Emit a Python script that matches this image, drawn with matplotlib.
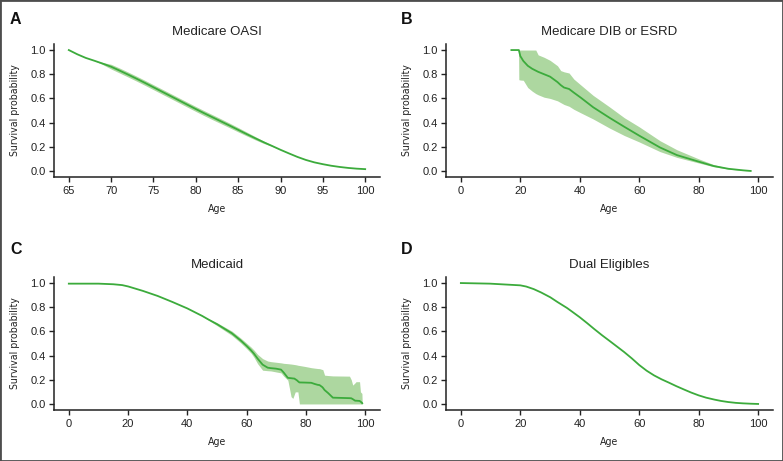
import os
import matplotlib
matplotlib.use("Agg")
import matplotlib.pyplot as plt
from matplotlib.patches import Rectangle
from matplotlib import font_manager

# ---------------- data ----------------
# A: Medicare OASI
a_age = [65, 66, 67, 68, 69, 70, 71, 72, 73, 74, 75, 76, 77, 78, 79, 80, 81, 82, 83,
         84, 85, 86, 87, 88, 89, 90, 91, 92, 93, 94, 95, 96, 97, 98, 99, 100]
a_surv = [1.0, 0.965, 0.935, 0.912, 0.888, 0.862, 0.83, 0.797, 0.763, 0.728, 0.692,
          0.656, 0.62, 0.584, 0.548, 0.512, 0.477, 0.443, 0.409, 0.375, 0.34, 0.305,
          0.271, 0.238, 0.207, 0.175, 0.145, 0.116, 0.091, 0.071, 0.056, 0.043,
          0.033, 0.025, 0.019, 0.015]
a_lower = [1.0, 0.965, 0.935, 0.912, 0.880, 0.843, 0.810, 0.777, 0.743, 0.708, 0.672,
           0.636, 0.600, 0.564, 0.528, 0.492, 0.457, 0.423, 0.390, 0.357, 0.323, 0.290,
           0.258, 0.228, 0.203, 0.175, 0.145, 0.116, 0.091, 0.071, 0.056, 0.043,
           0.033, 0.025, 0.019, 0.015]
a_upper = [1.0, 0.965, 0.935, 0.912, 0.897, 0.882, 0.851, 0.818, 0.784, 0.749, 0.713,
           0.677, 0.641, 0.605, 0.569, 0.533, 0.498, 0.464, 0.430, 0.395, 0.359, 0.322,
           0.285, 0.248, 0.212, 0.175, 0.145, 0.116, 0.091, 0.071, 0.056, 0.043,
           0.033, 0.025, 0.019, 0.015]

# B: Medicare DIB or ESRD
b_age = [17, 19.4, 19.5, 20, 21, 22.5, 24, 25.2, 26, 28, 30, 32.5, 33.6, 34.7, 36.4,
         38, 40.4, 44.5, 50, 55, 60, 67, 72.7, 80, 85, 90, 95, 97.5]
b_surv = [1.0, 1.0, 1.0, 0.95, 0.91, 0.87, 0.845, 0.83, 0.82, 0.80, 0.78, 0.735,
          0.71, 0.69, 0.678, 0.648, 0.605, 0.527, 0.44, 0.365, 0.292, 0.194, 0.131,
          0.077, 0.041, 0.018, 0.005, 0.0]
b_lower = [1.0, 1.0, 0.755, 0.752, 0.75, 0.69, 0.66, 0.64, 0.63, 0.61, 0.60, 0.58,
           0.565, 0.55, 0.535, 0.51, 0.48, 0.43, 0.355, 0.293, 0.24, 0.16, 0.112,
           0.066, 0.035, 0.015, 0.004, 0.0]
b_upper = [1.0, 1.0, 1.0, 1.0, 1.0, 1.0, 1.0, 1.0, 0.96, 0.94, 0.915, 0.87, 0.83,
           0.82, 0.81, 0.76, 0.71, 0.625, 0.53, 0.44, 0.365, 0.25, 0.175, 0.1,
           0.053, 0.022, 0.006, 0.0]

# C: Medicaid
c_age = [0, 5, 10, 15, 18, 20, 25, 30, 35, 40, 45, 47, 50, 55, 58, 60, 61.5, 62.5,
         63.7, 65.4, 67.1, 68.2, 69.9, 71.6, 72.5, 73.9, 75, 75.6, 76.1, 76.4, 77,
         77.3, 77.8, 79.5, 81.8, 83, 84, 84.6, 85.5, 85.7, 86.3, 87.5, 89.1, 94.7,
         95.3, 95.8, 96.6, 96.9, 98.1, 98.4, 98.9, 99]
c_surv = [0.995, 0.995, 0.995, 0.99, 0.983, 0.972, 0.935, 0.893, 0.843, 0.79, 0.728,
          0.70, 0.66, 0.585, 0.525, 0.48, 0.443, 0.415, 0.375, 0.325, 0.30, 0.296,
          0.292, 0.284, 0.26, 0.216, 0.213, 0.211, 0.21, 0.205, 0.195, 0.188, 0.178,
          0.177, 0.175, 0.165, 0.158, 0.156, 0.14, 0.135, 0.115, 0.09, 0.052, 0.048,
          0.047, 0.04, 0.027, 0.027, 0.025, 0.02, 0.01, 0.006]
c_lower = [0.995, 0.995, 0.995, 0.99, 0.983, 0.972, 0.935, 0.893, 0.843, 0.79, 0.726,
           0.695, 0.648, 0.567, 0.505, 0.458, 0.42, 0.385, 0.333, 0.279, 0.275, 0.273,
           0.265, 0.257, 0.23, 0.197, 0.06, 0.046, 0.08, 0.10, 0.10, 0.10, 0.0, 0.0,
           0.0, 0.0, 0.0, 0.0, 0.0, 0.0, 0.0, 0.0, 0.0, 0.0, 0.0, 0.0, 0.0, 0.0,
           0.0, 0.0, 0.0, 0.0]
c_upper = [0.995, 0.995, 0.995, 0.99, 0.983, 0.972, 0.935, 0.893, 0.843, 0.79, 0.73,
           0.705, 0.672, 0.603, 0.545, 0.502, 0.47, 0.445, 0.41, 0.375, 0.355, 0.35,
           0.345, 0.34, 0.336, 0.333, 0.33, 0.328, 0.326, 0.325, 0.322, 0.32, 0.318,
           0.311, 0.30, 0.296, 0.293, 0.292, 0.285, 0.284, 0.238, 0.235, 0.232, 0.23,
           0.20, 0.156, 0.175, 0.184, 0.184, 0.10, 0.087, 0.006]

# D: Dual Eligibles
d_age = [0, 9.8, 20, 22, 24.5, 27, 30.1, 32.5, 35.7, 37.5, 40, 42.5, 44.8, 47.5, 50.1,
         52.5, 54.9, 57.5, 60, 62.5, 65, 67.5, 70, 72.5, 75.2, 77.5, 80, 82.5, 85.3,
         87.5, 89.9, 92.5, 94.9, 97.5, 100]
d_surv = [1.0, 0.995, 0.981, 0.971, 0.95, 0.922, 0.882, 0.843, 0.794, 0.762, 0.717,
          0.668, 0.621, 0.568, 0.52, 0.475, 0.43, 0.377, 0.322, 0.275, 0.236, 0.204,
          0.176, 0.147, 0.118, 0.094, 0.071, 0.052, 0.036, 0.025, 0.016, 0.009,
          0.005, 0.002, 0.0]

panels = [
    ("A", "Medicare OASI", a_age, a_surv, a_lower, a_upper, [65, 70, 75, 80, 85, 90, 95, 100], (63.25, 101.75)),
    ("B", "Medicare DIB or ESRD", b_age, b_surv, b_lower, b_upper, [0, 20, 40, 60, 80, 100], (-5, 105)),
    ("C", "Medicaid", c_age, c_surv, c_lower, c_upper, [0, 20, 40, 60, 80, 100], (-5, 105)),
    ("D", "Dual Eligibles", d_age, d_surv, None, None, [0, 20, 40, 60, 80, 100], (-5, 105)),
]
y_ticks = [0.0, 0.2, 0.4, 0.6, 0.8, 1.0]

LINE = "#3cab3c"
BAND = "#add7a0"
INK = "#222222"

# ---- pick a condensed face for the axis titles, if one is installed ----
def find_condensed():
    prefs = ["NotoSans-ExtraCondensedMedium.", "NotoSans-ExtraCondensed.",
             "LiberationSansNarrow-Regular", "NotoSans-CondensedMedium.", "NotoSans-Condensed.",
             "DejaVuSansCondensed.", "RobotoCondensed-Regular"]
    files = [f.fname for f in font_manager.fontManager.ttflist]
    for p in prefs:
        for fn in files:
            if p in os.path.basename(fn):
                return fn
    for f in font_manager.fontManager.ttflist:
        if f.stretch in ("condensed", "semi-condensed") and f.style == "normal":
            return f.fname
    return None

cond_file = find_condensed()
if cond_file:
    label_fp = font_manager.FontProperties(fname=cond_file, size=7.6)
else:
    label_fp = font_manager.FontProperties(family=["Liberation Sans", "DejaVu Sans"], size=7.2)

W, H = 783, 461
fig = plt.figure(figsize=(W / 100, H / 100), dpi=100)
sans = ["Liberation Sans", "DejaVu Sans"]

# axes boxes in pixels: (left, top, right, bottom)
boxes = [(54, 44, 380, 177), (446, 44, 773, 177), (54, 277, 380, 410), (446, 277, 773, 410)]
letter_pos = [(10, 19), (401, 19), (10, 249), (401, 249)]

for (letter, title, age, surv, lo, hi, xt, xl), (l, t, r, b), (lx, ly) in zip(panels, boxes, letter_pos):
    ax = fig.add_axes([l / W, 1 - b / H, (r - l) / W, (b - t) / H])
    if lo is not None:
        ax.fill_between(age, lo, hi, color=BAND, lw=0)
    ax.plot(age, surv, color=LINE, lw=1.3, solid_joinstyle="round")
    ax.set_xlim(*xl)
    ax.set_ylim(-0.05, 1.05)
    ax.set_xticks(xt)
    ax.set_xticklabels([str(v) for v in xt], family=sans, fontsize=8, color=INK)
    ax.set_yticks(y_ticks)
    ax.set_yticklabels([f"{v:.1f}" for v in y_ticks], family=sans, fontsize=8, color=INK)
    for s in ("top", "right"):
        ax.spines[s].set_visible(False)
    for s in ("left", "bottom"):
        ax.spines[s].set_linewidth(1.1)
        ax.spines[s].set_color(INK)
    ax.tick_params(direction="out", length=3.3, width=1.0, color=INK)
    ax.tick_params(axis="x", pad=3.5)
    ax.tick_params(axis="y", pad=2.5)
    ax.set_xlabel("Age", fontproperties=label_fp, color=INK)
    ax.xaxis.set_label_coords(0.5, -0.205)
    ax.set_ylabel("Survival probability", fontproperties=label_fp, color=INK)
    ax.yaxis.set_label_coords(-0.105, 0.5)
    fig.text((l + r) / 2 / W, 1 - (t - 12) / H, title, family=sans, fontsize=9.5,
             color=INK, ha="center", va="center")
    fig.text(lx / W, 1 - ly / H, letter, family=sans, fontsize=11.5, weight="bold",
             color="#111111", ha="left", va="center")

fig.patches.append(Rectangle((0, 0), 1, 1, transform=fig.transFigure, fill=False,
                             edgecolor="#4d4d4d", lw=2.0))

fig.savefig("out.png", dpi=100)
